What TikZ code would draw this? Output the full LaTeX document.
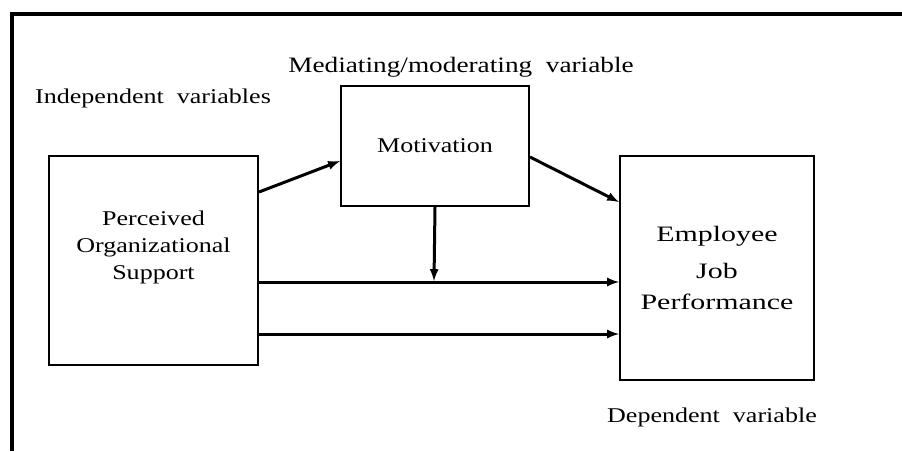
\documentclass[tikz,border=0pt]{standalone}
\usepackage{fontspec}
\setmainfont{Liberation Serif}[FakeStretch=1.24]
\newfontfamily\empfont{Liberation Serif}[FakeStretch=1.36]
\usepackage{tikz}
\usetikzlibrary{positioning,arrows}

\begin{document}
\begin{tikzpicture}[x=1pt,y=-1pt,
    box/.style={draw,line width=2pt,inner sep=0pt},
    txt/.style={font=\fontsize{21}{27}\selectfont},
    link/.style={-latex,line width=3pt}]

    \useasboundingbox (0,0) rectangle (902,451);

    % frame
    \draw[line width=4pt] (12,451) -- (12,14) -- (902,14);

    \node (pos) [box,minimum width=209,minimum height=209] at (153.5,260.5) {};
    \node (postext) [txt,align=center] at ([yshift=13]pos.center) {Perceived\\Organizational\\Support};
    \node (mot) [box,txt,minimum width=188,minimum height=120] at (435,146) {Motivation};
    \node (emp) [box,align=center,minimum width=194,minimum height=224,
        font=\empfont\fontsize{22}{31}\selectfont] at (717,268) {Employee\\[6pt]Job\\Performance};

    \node (indep) [txt,anchor=base west,inner sep=0pt] at (35,103) {Independent\ \ variables};
    \node (medi) [font=\fontsize{22}{27}\selectfont,anchor=base,inner sep=0pt] at (461,72) {Mediating/moderating\ \ variable};
    \node (dep) [txt,anchor=base,inner sep=0pt] at (712,422) {Dependent\ \ variable};

    \coordinate (mod) at (434,281);

    \draw[link] ([yshift=68.5]pos.east) -- ([yshift=-15]mot.west);
    \draw[link] ([yshift=-11]mot.east) -- ([yshift=66]emp.west);
    \draw[link] (mot.south) -- (mod);
    \draw[link] ([yshift=-21.5]pos.east) -- ([yshift=-21.5]pos.east -| emp.west);
    \draw[link] ([yshift=-73.5]pos.east) -- ([yshift=-73.5]pos.east -| emp.west);

\end{tikzpicture}
\end{document}
